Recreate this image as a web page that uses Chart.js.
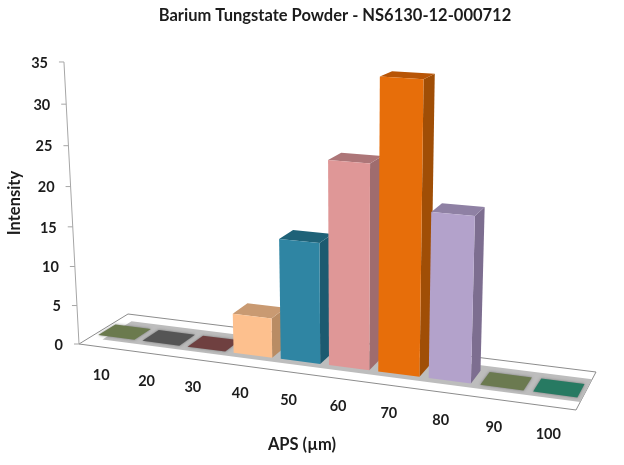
<!DOCTYPE html>
<html>
<head>
<meta charset="utf-8">
<title>Barium Tungstate Powder</title>
<script src="https://cdn.jsdelivr.net/npm/chart.js@4"></script>
<style>
    html, body { margin: 0; padding: 0; background: #fff; }
    canvas { display: block; }
</style>
</head>
<body>
<canvas id="apsChart" width="624" height="465"></canvas>
<script>
var categories = ["10", "20", "30", "40", "50", "60", "70", "80", "90", "100"];
var intensity = [0, 0, 0, 5, 15, 25, 35, 20, 0, 0];
var yTicks = { min: 0, max: 35, step: 5 };

var frontColors = ["#6b7a4e", "#555555", "#6f4040", "#fdc08e", "#2f85a3", "#df9797", "#e76e0a", "#b3a2cb", "#6b7a50", "#277a62"];
var topColors = ["#6b7a4e", "#555555", "#6f4040", "#c99a72", "#1f6278", "#ad7678", "#b85506", "#8f81a4", "#6b7a50", "#277a62"];
var sideColors = ["#6b7a4e", "#555555", "#6f4040", "#b98c64", "#1c5a70", "#9f6c6e", "#a04e06", "#7d6e90", "#6b7a50", "#277a62"];

// floor corners on the page and where the verticals meet
var floorQuad = { fl: [79, 344], fr: [576, 410], br: [596, 372], bl: [128, 314] };
var vanish = [351, 5444];
var heightScale = -0.0524;
var barDepth = [0.3, 0.65];

var textColor = "#1c1c1c";
Chart.defaults.font.family = "Lato";

function buildProjection(q) {
    var dx1 = q.fr[0] - q.br[0], dx2 = q.bl[0] - q.br[0], sx = q.fl[0] - q.fr[0] + q.br[0] - q.bl[0];
    var dy1 = q.fr[1] - q.br[1], dy2 = q.bl[1] - q.br[1], sy = q.fl[1] - q.fr[1] + q.br[1] - q.bl[1];
    var det = dx1 * dy2 - dx2 * dy1;
    var g = (sx * dy2 - dx2 * sy) / det;
    var h = (dx1 * sy - sx * dy1) / det;
    var a = q.fr[0] - q.fl[0] + g * q.fr[0];
    var b = q.bl[0] - q.fl[0] + h * q.bl[0];
    var d = q.fr[1] - q.fl[1] + g * q.fr[1];
    var e = q.bl[1] - q.fl[1] + h * q.bl[1];
    return function (u, depth, up) {
        var w = g * u + h * depth + 1 + heightScale * up;
        return [
            (a * u + b * depth + q.fl[0] + heightScale * up * vanish[0]) / w,
            (d * u + e * depth + q.fl[1] + heightScale * up * vanish[1]) / w,
        ];
    };
}
var project = buildProjection(floorQuad);

function fillPoly(ctx, pts, fill, stroke) {
    ctx.beginPath();
    ctx.moveTo(pts[0][0], pts[0][1]);
    for (var i = 1; i < pts.length; i++) ctx.lineTo(pts[i][0], pts[i][1]);
    ctx.closePath();
    if (fill) { ctx.fillStyle = fill; ctx.fill(); }
    if (stroke) { ctx.strokeStyle = stroke; ctx.lineWidth = 1; ctx.stroke(); }
}

var perspectivePlugin = {
    id: "perspective",
    // the flat bars are replaced by projected boxes
    beforeDatasetDraw: function (chart) {
        var ctx = chart.ctx;
        var area = chart.chartArea;
        var yScale = chart.scales.y;
        var xScale = chart.scales.x;
        var toU = function (px) { return (px - area.left) / area.width; };
        var toH = function (py) { return (yScale.bottom - py) / yScale.height; };

        ctx.save();

        // floor
        fillPoly(ctx, [project(0, 0, 0), project(1, 0, 0), project(1, 1, 0), project(0, 1, 0)], "#ffffff", "#8c8c8c");
        fillPoly(ctx, [project(0.03, 0.2, 0), project(1, 0.2, 0), project(1, 0.8, 0), project(0.03, 0.8, 0)], "#bdbdbd");

        // value axis
        var axisTop = project(0, 0, 1), axisBottom = project(0, 0, 0);
        ctx.strokeStyle = "#a6a6a6";
        ctx.lineWidth = 1;
        ctx.beginPath();
        ctx.moveTo(axisTop[0], axisTop[1]);
        ctx.lineTo(axisBottom[0], axisBottom[1]);
        yScale.ticks.forEach(function (t) {
            var p = project(0, 0, toH(yScale.getPixelForValue(t.value)));
            ctx.moveTo(p[0] - 5, p[1]);
            ctx.lineTo(p[0], p[1]);
        });
        ctx.stroke();

        // bars
        chart.getDatasetMeta(0).data.forEach(function (el, i) {
            var u0 = toU(el.x - el.width / 2), u1 = toU(el.x + el.width / 2);
            var d0 = barDepth[0], d1 = barDepth[1];
            var top = toH(el.y);
            if (intensity[i] === 0) {
                ctx.save();
                ctx.shadowColor = "rgba(90,90,90,0.7)";
                ctx.shadowBlur = 3;
                fillPoly(ctx, [project(u0, d0, 0), project(u1, d0, 0), project(u1, d1, 0), project(u0, d1, 0)], frontColors[i]);
                ctx.restore();
                return;
            }
            fillPoly(ctx, [project(u1, d0, 0), project(u1, d1, 0), project(u1, d1, top), project(u1, d0, top)], sideColors[i]);
            fillPoly(ctx, [project(u0, d0, top), project(u1, d0, top), project(u1, d1, top), project(u0, d1, top)], topColors[i]);
            fillPoly(ctx, [project(u0, d0, 0), project(u1, d0, 0), project(u1, d0, top), project(u0, d0, top)], frontColors[i]);
        });

        // tick labels follow the projected axes
        ctx.fillStyle = textColor;
        ctx.font = "bold 14.5px Lato";
        ctx.textBaseline = "middle";
        ctx.textAlign = "right";
        yScale.ticks.forEach(function (t) {
            var p = project(0, 0, toH(yScale.getPixelForValue(t.value)));
            ctx.fillText(t.label, p[0] - 16, p[1] + 1);
        });
        ctx.textAlign = "center";
        categories.forEach(function (c, i) {
            var p = project(toU(xScale.getPixelForValue(i)), 0, 0);
            ctx.fillText(c, p[0], p[1] + 28);
        });

        // axis titles
        ctx.font = "bold 16.5px Lato";
        ctx.fillText("APS (µm)", 302, 445);
        ctx.translate(15, 203);
        ctx.rotate(-Math.PI / 2);
        ctx.fillText("Intensity", 0, 0);

        ctx.restore();
        return false;
    },
};

var apsChart = new Chart(document.getElementById("apsChart").getContext("2d"), {
    type: "bar",
    data: {
        labels: categories,
        datasets: [
            {
                label: "Intensity",
                data: intensity,
                backgroundColor: frontColors,
                categoryPercentage: 0.82,
                barPercentage: 1,
            },
        ],
    },
    options: {
        responsive: false,
        animation: false,
        events: [],
        layout: {
            padding: { left: 46, top: 6 },
        },
        scales: {
            x: { display: false },
            y: {
                display: false,
                min: yTicks.min,
                max: yTicks.max,
                ticks: { stepSize: yTicks.step },
            },
        },
        plugins: {
            legend: { display: false },
            tooltip: { enabled: false },
            title: {
                display: true,
                text: "Barium Tungstate Powder - NS6130-12-000712",
                color: textColor,
                font: { size: 16.5, weight: "bold" },
                padding: { top: 0, bottom: 10 },
            },
        },
    },
    plugins: [perspectivePlugin],
});
</script>
</body>
</html>
